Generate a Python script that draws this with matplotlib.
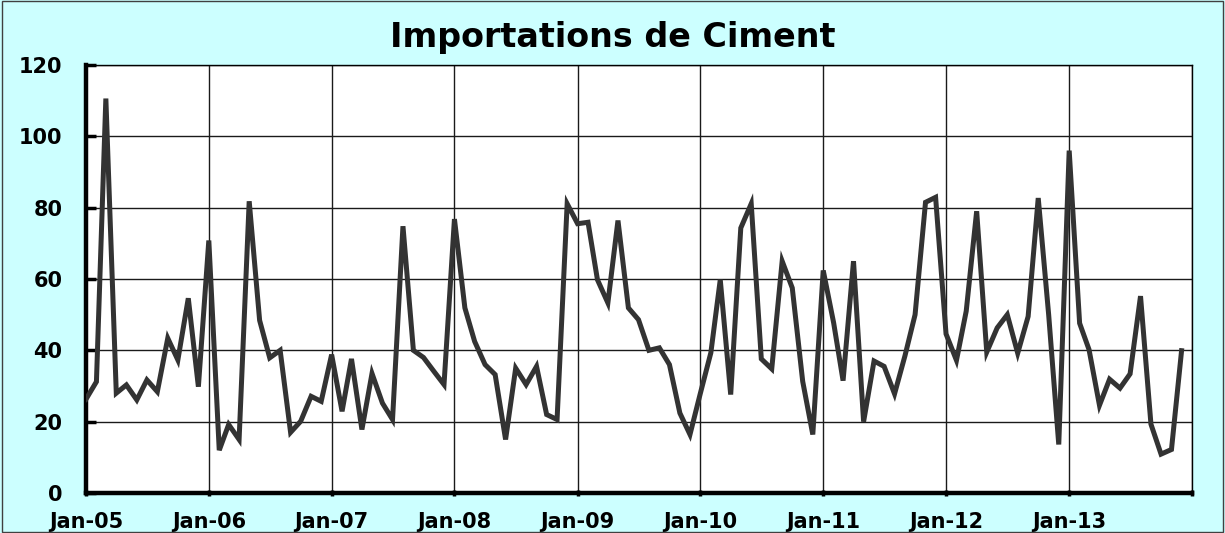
import numpy as np
import pandas as pd
import matplotlib
matplotlib.use("Agg")
import matplotlib.pyplot as plt
from matplotlib.patches import Rectangle

# ==========
# Data (monthly Jan-05 .. Dec-13)
# ==========
values_2005 = [26.3, 31.2, 110.6, 28.0, 30.3, 26.1, 31.7, 28.4, 43.4, 37.3, 54.6, 29.8]
values_2006 = [70.8, 12.0, 19.2, 15.0, 81.8, 48.4, 37.9, 40.0, 17.0, 20.1, 27.1, 25.7]
values_2007 = [38.8, 22.9, 37.6, 17.8, 33.5, 25.2, 20.6, 74.8, 40.0, 38.0, 34.1, 30.4]
values_2008 = [76.8, 51.9, 42.5, 36.0, 33.2, 15.0, 35.0, 30.4, 35.5, 22.0, 20.6, 81.1]
values_2009 = [75.5, 75.9, 59.8, 53.3, 76.4, 51.9, 48.6, 40.0, 40.7, 36.0, 22.4, 16.4]
values_2010 = [28.0, 39.3, 59.8, 27.6, 74.3, 81.1, 37.6, 34.8, 65.0, 57.5, 31.3, 16.4]
values_2011 = [62.4, 47.7, 31.5, 65.0, 20.0, 37.0, 35.5, 27.8, 38.5, 50.0, 81.5, 82.9]
values_2012 = [44.6, 37.2, 51.0, 79.0, 39.5, 46.3, 50.0, 39.2, 49.5, 82.7, 50.0, 13.6]
values_2013 = [96.0, 47.6, 40.2, 24.6, 31.9, 29.4, 33.4, 55.2, 19.3, 10.9, 12.2, 39.9]

imports = (values_2005 + values_2006 + values_2007 + values_2008 + values_2009
           + values_2010 + values_2011 + values_2012 + values_2013)
months = pd.date_range("2005-01-01", periods=len(imports), freq="MS")

years = list(range(2005, 2015))
year_labels = ["Jan-05", "Jan-06", "Jan-07", "Jan-08", "Jan-09",
               "Jan-10", "Jan-11", "Jan-12", "Jan-13", ""]
y_ticks = [0, 20, 40, 60, 80, 100, 120]

TITLE = "Importations de Ciment"

# ==========
# Style
# ==========
BG = "#CCFFFF"
LINE = "#333333"
plt.rcParams["font.family"] = ["DejaVu Sans"]
plt.rcParams["font.weight"] = "bold"

fig = plt.figure(figsize=(12.25, 5.33), dpi=100, facecolor=BG)
ax = fig.add_axes([86/1225, 40/533, 1106/1225, 428/533])
ax.set_facecolor("white")

ax.plot(months, imports, color=LINE, lw=3.6, solid_joinstyle="miter", zorder=3)

# axes limits / ticks
year_dates = [pd.Timestamp(f"{y}-01-01") for y in years]
ax.set_xlim(year_dates[0], year_dates[-1])
ax.set_ylim(0, 120)
ax.set_xticks(year_dates)
ax.set_xticklabels(year_labels)
ax.set_yticks(y_ticks)
ax.set_yticklabels([str(v) for v in y_ticks])

ax.grid(True, color="#1a1a1a", lw=1.0, zorder=1)
ax.set_axisbelow(True)

for side in ["top", "right"]:
    ax.spines[side].set_linewidth(1.0)
    ax.spines[side].set_color("black")
for side in ["left", "bottom"]:
    ax.spines[side].set_linewidth(3.2)
    ax.spines[side].set_color("black")

ax.tick_params(axis="y", direction="in", length=7, width=2.5, pad=17,
               labelsize=15, colors="black")
ax.tick_params(axis="x", direction="inout", length=5, width=2.5, pad=11,
               labelsize=15, colors="black")
for lbl in ax.get_xticklabels() + ax.get_yticklabels():
    lbl.set_fontweight("bold")

fig.text(0.5, 1 - 37/533, TITLE, ha="center", va="center",
         fontsize=24, fontweight="bold", color="black")

# thin frame around the whole chart
fig.patches.append(Rectangle((0.002, 0.002), 0.996, 0.996, transform=fig.transFigure,
                             fill=False, edgecolor="#404040", lw=1.0))

fig.savefig("out.png", dpi=100, facecolor=BG)
